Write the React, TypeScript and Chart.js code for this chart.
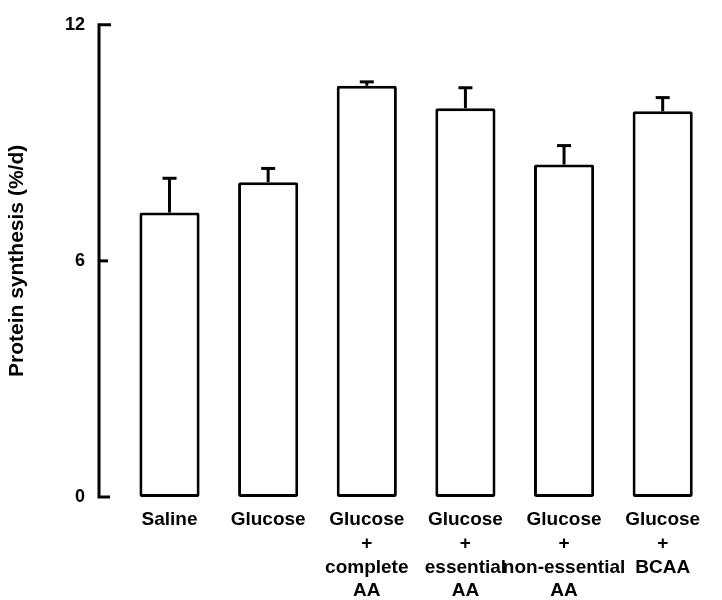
import React, { useEffect, useRef } from 'react';
import { Chart, registerables } from 'chart.js';

Chart.register(...registerables);

const categories: string[][] = [
  ['Saline'],
  ['Glucose'],
  ['Glucose', '+', 'complete', 'AA'],
  ['Glucose', '+', 'essential', 'AA'],
  ['Glucose', '+', 'non-essential', 'AA'],
  ['Glucose', '+', 'BCAA'],
];
const means = [7.23, 8.0, 10.45, 9.88, 8.45, 9.8];
const errors = [0.87, 0.35, 0.1, 0.52, 0.48, 0.35];
const yTicks = [0, 6, 12];
const yTitle = 'Protein synthesis (%/d)';

const FONT = '"Liberation Sans", Arial, Helvetica, sans-serif';

const axisAndErrors = {
  id: 'axisAndErrors',
  afterDatasetsDraw(chart: any) {
    const { ctx } = chart;
    const y = chart.scales.y;
    const meta = chart.getDatasetMeta(0);
    ctx.save();
    ctx.strokeStyle = '#000';
    ctx.lineWidth = 3;
    ctx.lineCap = 'butt';
    meta.data.forEach((bar: any, i: number) => {
      const top = y.getPixelForValue(means[i] + errors[i]);
      ctx.beginPath();
      ctx.moveTo(bar.x, bar.y);
      ctx.lineTo(bar.x, top);
      ctx.stroke();
      ctx.beginPath();
      ctx.moveTo(bar.x - 7, top);
      ctx.lineTo(bar.x + 7, top);
      ctx.stroke();
    });
    const ax = chart.chartArea.left;
    const yTop = y.getPixelForValue(yTicks[yTicks.length - 1]);
    const yBot = y.getPixelForValue(yTicks[0]);
    ctx.lineJoin = 'miter';
    ctx.beginPath();
    ctx.moveTo(ax + 12, yTop);
    ctx.lineTo(ax, yTop);
    ctx.lineTo(ax, yBot);
    ctx.lineTo(ax + 11, yBot);
    ctx.stroke();
    yTicks.slice(1, -1).forEach((t) => {
      const py = y.getPixelForValue(t);
      ctx.beginPath();
      ctx.moveTo(ax, py);
      ctx.lineTo(ax + 9, py);
      ctx.stroke();
    });
    ctx.restore();
  },
};

export default function App() {
  const ref = useRef<HTMLCanvasElement | null>(null);
  useEffect(() => {
    if (!ref.current) return;
    const chart = new Chart(ref.current, {
      type: 'bar',
      data: {
        datasets: [
          {
            data: means.map((v, i) => ({ x: i, y: v })) as any,
            backgroundColor: '#fff',
            borderColor: '#000',
            borderWidth: 3,
            borderSkipped: false,
            borderRadius: 2,
            barPercentage: 0.61,
            categoryPercentage: 1,
          },
        ],
      },
      options: {
        animation: false,
        responsive: false,
        maintainAspectRatio: false,
        layout: { padding: { top: 17, right: 10, left: 0, bottom: 0 } },
        plugins: { legend: { display: false }, tooltip: { enabled: false } },
        scales: {
          x: {
            type: 'linear',
            offset: false,
            min: -0.715,
            max: 5.5,
            grid: { display: false, drawTicks: false },
            border: { display: false },
            afterBuildTicks: (a: any) => {
              a.ticks = categories.map((_, i) => ({ value: i }));
            },
            afterFit: (s: any) => {
              s.height = 103;
            },
            ticks: {
              callback: (v: any) => categories[v],
              padding: 11,
              color: '#000',
              maxRotation: 0,
              autoSkip: false,
              font: { family: FONT, size: 19, weight: 'bold', lineHeight: 1.25 },
            },
          },
          y: {
            min: 0,
            max: 12,
            grid: { display: false, drawTicks: false },
            border: { display: false },
            afterBuildTicks: (a: any) => {
              a.ticks = yTicks.map((v) => ({ value: v }));
            },
            afterFit: (s: any) => {
              s.width = 99;
            },
            ticks: {
              padding: 14,
              color: '#000',
              font: { family: FONT, size: 18, weight: 'bold' },
            },
            title: {
              display: true,
              text: yTitle,
              color: '#000',
              padding: { top: 5, bottom: 0 },
              font: { family: FONT, size: 21, weight: 'bold' },
            },
          },
        },
      } as any,
      plugins: [axisAndErrors],
    });
    return () => chart.destroy();
  }, []);
  return (
    <div style={{ position: 'fixed', left: 0, top: 0, width: 722, height: 600, background: '#fff' }}>
      <canvas ref={ref} width={722} height={600} />
    </div>
  );
}
